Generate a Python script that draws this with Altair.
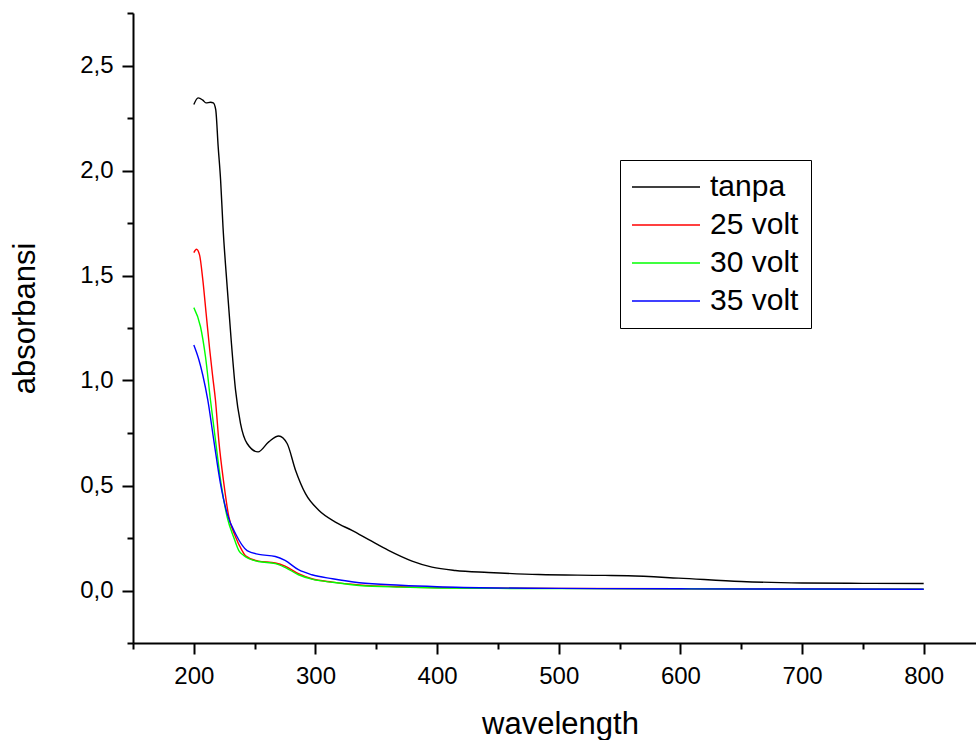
import altair as alt
import pandas as pd

series_names = ["tanpa", "25 volt", "30 volt", "35 volt"]
series_colors = ["#000000", "#ff0000", "#00ff00", "#0000ff"]

wl_tanpa = [200, 203.5, 207.4, 210, 213.7, 216, 218, 220, 222, 224,
            227.4, 230.7, 234.3, 238.4, 243.8, 252.8, 261.6, 269.8, 276.7, 283.6,
            291.8, 302.7, 316.4, 330, 343.8, 360, 379.4, 395.8, 415, 442,
            483.5, 538, 557, 598.5, 650, 700, 750, 800]
abs_tanpa = [2.314, 2.346, 2.335, 2.322, 2.325, 2.322, 2.29, 2.115, 1.956, 1.73,
             1.447, 1.193, 0.954, 0.795, 0.70, 0.66, 0.708, 0.736, 0.70, 0.573,
             0.461, 0.382, 0.326, 0.286, 0.242, 0.191, 0.14, 0.111, 0.095, 0.086,
             0.076, 0.072, 0.070, 0.059, 0.043, 0.036, 0.034, 0.033]

wl_25 = [200, 202.2, 204.7, 207.4, 210.1, 213, 215.5, 217.8, 220.5, 224.7,
         228.8, 234, 239.7, 242.5, 253, 267, 275, 286, 297, 314,
         336, 370, 400, 450, 500, 600, 700, 800]
abs_25 = [1.609, 1.625, 1.598, 1.479, 1.32, 1.15, 1.02, 0.906, 0.716, 0.509,
          0.35, 0.26, 0.19, 0.165, 0.14, 0.131, 0.116, 0.08, 0.056, 0.04,
          0.027, 0.018, 0.014, 0.011, 0.010, 0.008, 0.007, 0.006]

wl_30 = [200, 205.5, 209.6, 213.7, 217.8, 222.4, 227.4, 233, 237, 241,
         253, 267, 275, 286, 297, 314, 336, 370, 400, 450,
         500, 600, 700, 800]
abs_30 = [1.347, 1.256, 1.113, 0.906, 0.716, 0.509, 0.35, 0.25, 0.19, 0.167,
          0.138, 0.128, 0.11, 0.075, 0.054, 0.039, 0.024, 0.016, 0.012, 0.010,
          0.009, 0.008, 0.006, 0.006]

wl_35 = [200, 204.1, 207.4, 211.5, 216.4, 221.9, 227.4, 234.3, 243.8, 253.4,
         267, 275, 286, 297, 314, 336, 370, 400, 450, 500,
         600, 700, 800]
abs_35 = [1.169, 1.10, 1.025, 0.906, 0.716, 0.509, 0.366, 0.27, 0.19, 0.172,
          0.162, 0.143, 0.099, 0.075, 0.056, 0.037, 0.025, 0.018, 0.012, 0.010,
          0.008, 0.007, 0.006]

x_ticks = [150, 200, 250, 300, 350, 400, 450, 500, 550, 600, 650, 700, 750, 800]
y_ticks = [-0.25, 0.0, 0.25, 0.5, 0.75, 1.0, 1.25, 1.5, 1.75, 2.0, 2.25, 2.5, 2.75]

frames = []
for name, wl, ab in zip(series_names, [wl_tanpa, wl_25, wl_30, wl_35],
                        [abs_tanpa, abs_25, abs_30, abs_35]):
    frames.append(pd.DataFrame({"wavelength": wl, "absorbansi": ab, "series": name}))
df = pd.concat(frames, ignore_index=True)

FONT = "Liberation Sans"

x_major = "datum.value % 100 === 0"
y_major = "abs(datum.value * 2 - round(datum.value * 2)) < 0.001"

chart = alt.Chart(df).mark_line(strokeWidth=1.4, interpolate="monotone").encode(
    x=alt.X(
        "wavelength:Q",
        scale=alt.Scale(domain=[150, 843], nice=False, zero=False),
        axis=alt.Axis(
            values=x_ticks,
            title="wavelength",
            labelExpr=f"{x_major} ? datum.label : ''",
            tickSize={"condition": {"test": x_major, "value": 11}, "value": 6},
            labelPadding=10,
            labelOverlap=False,
            titleX=427,
            titleY=90,
            titleBaseline="alphabetic",
        ),
    ),
    y=alt.Y(
        "absorbansi:Q",
        scale=alt.Scale(domain=[-0.25, 2.75], nice=False, zero=False),
        axis=alt.Axis(
            values=y_ticks,
            title="absorbansi",
            labelExpr=f"{y_major} ? replace(format(datum.value, '.1f'), '.', ',') : ''",
            tickSize={"condition": {"test": y_major, "value": 11}, "value": 6},
            labelPadding=9,
            labelOverlap=False,
            titleAngle=270,
            titleX=-108,
            titleY=305,
            titleBaseline="middle",
        ),
    ),
    color=alt.Color(
        "series:N",
        scale=alt.Scale(domain=series_names, range=series_colors),
        title=None,
        legend=alt.Legend(
            orient="none",
            legendX=487,
            legendY=147,
            padding=12,
            strokeColor="black",
            fillColor="white",
            labelFontSize=30,
            labelFont=FONT,
            labelColor="black",
            symbolType="M-1.5,0H5.3",
            symbolSize=400,
            symbolStrokeWidth=1.4,
            labelOffset=48,
            rowPadding=8,
        ),
    ),
).properties(
    width=843,
    height=630,
    autosize=alt.AutoSizeParams(type="none"),
    padding={"left": 133, "top": 13, "right": 0, "bottom": 97},
).configure_view(
    stroke="transparent"
).configure_axis(
    grid=False,
    labelFont=FONT,
    titleFont=FONT,
    labelFontSize=24,
    titleFontSize=31,
    titleFontWeight="normal",
    labelColor="black",
    titleColor="black",
    domainColor="black",
    tickColor="black",
    domainWidth=2,
    tickWidth=2,
)

chart.save("out.html", embed_options={"renderer": "svg", "actions": False})
